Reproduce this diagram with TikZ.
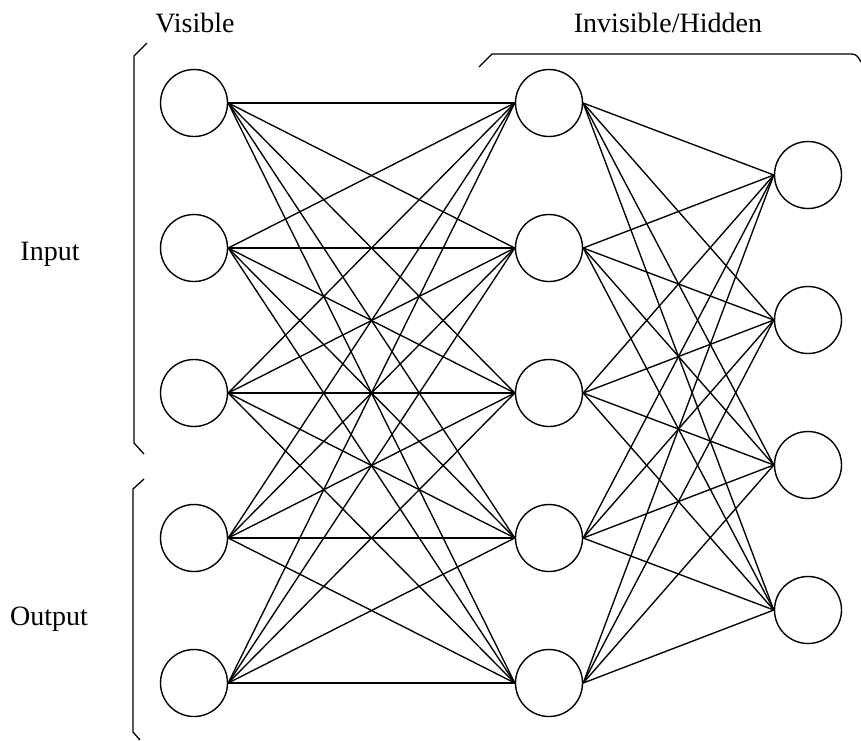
\documentclass[tikz,border=0pt]{standalone}
\usepackage{fontspec}
\setmainfont{Liberation Serif}
\begin{document}
\begin{tikzpicture}[x=1pt,y=-1pt,
  neuron/.style={circle,draw,line width=1.4pt,minimum size=67pt,inner sep=0pt},
  link/.style={line width=1.35pt},
  brace/.style={line width=1.3pt},
  lbl/.style={font=\fontsize{28}{33}\selectfont,anchor=base,inner sep=0pt}]
\useasboundingbox (0,0) rectangle (861,740);
% left column
\foreach \i/\y in {1/103,2/248,3/393,4/538,5/683}
  \node[neuron] (L\i) at (194,\y) {};
% middle column
\foreach \i/\y in {1/103,2/248,3/393,4/538,5/683}
  \node[neuron] (M\i) at (549,\y) {};
% right column
\foreach \i/\y in {1/175,2/320,3/465,4/610}
  \node[neuron] (R\i) at (808,\y) {};
% connections
\foreach \a in {1,...,5}
  \foreach \b in {1,...,5}
    \draw[link] (L\a.east) -- (M\b.west);
\foreach \a in {1,...,5}
  \foreach \b in {1,...,4}
    \draw[link] (M\a.east) -- (R\b.west);
% brackets
\draw[brace] (147,43) -- (134,56) -- (134,443) -- (144,454);
\draw[brace] (144,479) -- (133,489) -- (133,732) -- (140,740);
\draw[brace] (479,67) -- (492,54) -- (852,54) to[out=0,in=120] (861,62);
% labels
\node[lbl] (tv) at (195,32) {Visible};
\node[lbl] (th) at (668,32) {Invisible/Hidden};
\node[lbl] (ti) at (50,260) {Input};
\node[lbl] (to) at (49,625) {Output};
\end{tikzpicture}
\end{document}
